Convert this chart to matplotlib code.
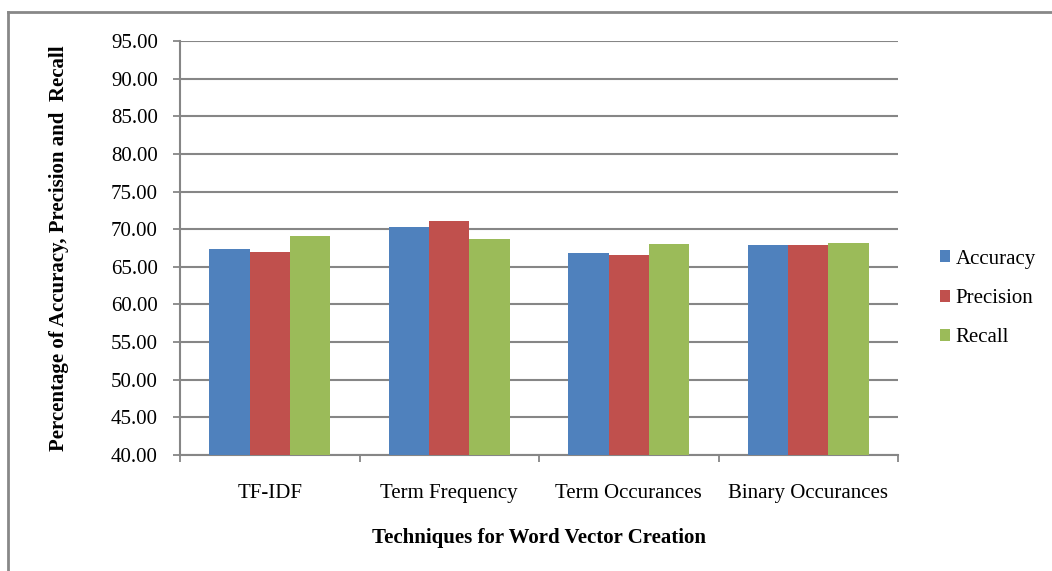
import numpy as np
import matplotlib
matplotlib.use("Agg")
import matplotlib.pyplot as plt
from matplotlib.lines import Line2D

# scores per technique
techniques = ["TF-IDF", "Term Frequency", "Term Occurances", "Binary Occurances"]
accuracy = [67.34, 70.27, 66.80, 67.87]
precision = [66.95, 71.06, 66.55, 67.87]
recall = [69.07, 68.67, 68.00, 68.14]

series = ["Accuracy", "Precision", "Recall"]
colors = ["#4F81BD", "#C0504D", "#9BBB59"]

plt.rcParams['font.family'] = ['Liberation Serif', 'DejaVu Serif']
FS = 15

fig = plt.figure(figsize=(10.52, 5.71), dpi=100)
ax = fig.add_axes([180/1052, 1 - 455/571, 718/1052, 414/571])

# chart frame: top and left edges only
top_y = 1 - 12/571
left_x = 7.5/1052
fig.lines.append(Line2D([left_x, 1], [top_y, top_y], transform=fig.transFigure,
                        color="#888888", linewidth=2))
fig.lines.append(Line2D([left_x, left_x], [0, top_y], transform=fig.transFigure,
                        color="#888888", linewidth=2))

x = np.arange(len(techniques))
w = 0.225
for i, (vals, name, c) in enumerate(zip([accuracy, precision, recall], series, colors)):
    ax.bar(x + (i - 1) * w, np.array(vals) - 40, width=w, bottom=40,
           color=c, label=name, zorder=3)

ax.set_xlim(-0.5, len(techniques) - 0.5)
ax.set_ylim(40, 95)
ax.set_yticks(np.arange(40, 96, 5))
ax.set_yticklabels(["%.2f" % v for v in np.arange(40, 96, 5)], fontsize=FS)
ax.set_xticks(x)
ax.set_xticklabels(techniques, fontsize=FS)
ax.set_xticks(np.arange(-0.5, len(techniques)), minor=True)
ax.tick_params(axis="x", which="major", length=0, pad=21)
ax.tick_params(axis="x", which="minor", length=5, width=1.3, color="#868686")
ax.tick_params(axis="y", length=5, width=1.3, color="#868686", pad=11)

ax.yaxis.grid(True, color="#868686", linewidth=1.5, zorder=0)
for s in ["top", "right"]:
    ax.spines[s].set_visible(False)
for s in ["left", "bottom"]:
    ax.spines[s].set_color("#868686")
    ax.spines[s].set_linewidth(1.5)

ax.set_xlabel("Techniques for Word Vector Creation", fontsize=FS,
              fontweight="bold", labelpad=18)
ax.set_ylabel("Percentage of Accuracy, Precision and  Recall", fontsize=FS,
              fontweight="bold", labelpad=30)

ax.legend(loc="center left", bbox_to_anchor=(1.0585, 0.378), frameon=False,
          fontsize=FS, handlelength=0.5, handleheight=0.5, borderpad=0,
          borderaxespad=0, handletextpad=0.25, labelspacing=0.97)

fig.savefig("out.png", dpi=100)
